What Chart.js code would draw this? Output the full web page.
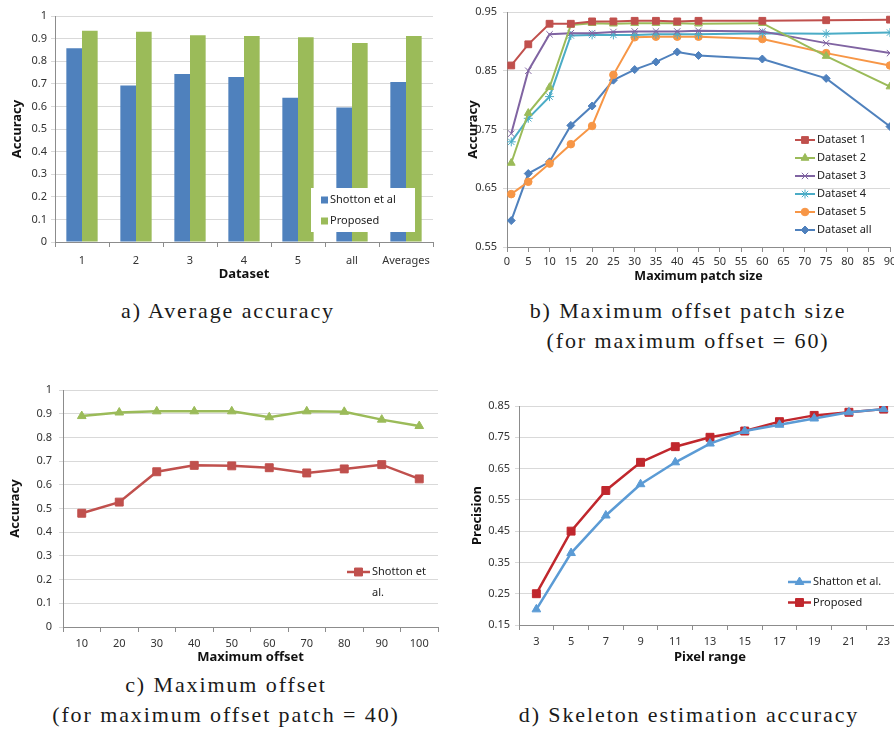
<!DOCTYPE html>
<html>
<head>
<meta charset="utf-8">
<script src="https://cdn.jsdelivr.net/npm/chart.js@4.4.1/dist/chart.umd.min.js"></script>
<style>
  html, body { margin: 0; padding: 0; background: #fff; }
  body { width: 894px; height: 738px; overflow: hidden; position: relative; }
  canvas { position: absolute; }
  .cap {
    position: absolute; text-align: center; color: #1a1a1a;
    font-family: "Liberation Serif", serif; font-size: 22px; line-height: 30px;
    letter-spacing: 1.9px; white-space: nowrap;
  }
</style>
</head>
<body>
<canvas id="chartA" width="440" height="285" style="left:0;top:0"></canvas>
<canvas id="chartB" width="470" height="290" style="left:450px;top:0"></canvas>
<canvas id="chartC" width="445" height="300" style="left:0;top:370px"></canvas>
<canvas id="chartD" width="470" height="290" style="left:450px;top:390px"></canvas>

<div class="cap" style="left:28px;width:400px;top:296px">a) Average accuracy</div>
<div class="cap" style="left:488px;width:400px;top:296px">b) Maximum offset patch size<br>(for maximum offset = 60)</div>
<div class="cap" style="left:26px;width:400px;top:670px">c) Maximum offset<br>(for maximum offset patch = 40)</div>
<div class="cap" style="left:489px;width:400px;top:700px">d) Skeleton estimation accuracy</div>

<script>
// a) average accuracy per dataset
const datasetNames = ["1", "2", "3", "4", "5", "all", "Averages"];
const shottonAvg = [0.857, 0.692, 0.743, 0.730, 0.638, 0.595, 0.708];
const proposedAvg = [0.935, 0.930, 0.915, 0.912, 0.906, 0.880, 0.912];
const accuracyTicks = [0, 0.1, 0.2, 0.3, 0.4, 0.5, 0.6, 0.7, 0.8, 0.9, 1];

// b) maximum offset patch size
const patchSizes = [1, 5, 10, 15, 20, 25, 30, 35, 40, 45, 60, 75, 90];
const patchDataset1 = [0.859, 0.895, 0.930, 0.930, 0.934, 0.934, 0.935, 0.935, 0.934, 0.935, 0.935, 0.936, 0.937];
const patchDataset2 = [0.693, 0.778, 0.822, 0.928, 0.931, 0.930, 0.931, 0.931, 0.931, 0.930, 0.931, 0.875, 0.823];
const patchDataset3 = [0.743, 0.850, 0.912, 0.914, 0.914, 0.916, 0.917, 0.917, 0.917, 0.918, 0.917, 0.897, 0.880];
const patchDataset4 = [0.729, 0.769, 0.806, 0.910, 0.911, 0.911, 0.911, 0.912, 0.912, 0.912, 0.914, 0.913, 0.915];
const patchDataset5 = [0.640, 0.661, 0.692, 0.725, 0.756, 0.843, 0.907, 0.908, 0.908, 0.908, 0.904, 0.880, 0.859];
const patchDatasetAll = [0.595, 0.675, 0.695, 0.757, 0.790, 0.834, 0.852, 0.865, 0.882, 0.876, 0.870, 0.837, 0.755];
const patchAccTicks = [0.55, 0.65, 0.75, 0.85, 0.95];

// c) maximum offset
const offsetValues = ["10", "20", "30", "40", "50", "60", "70", "80", "90", "100"];
const offsetShotton = [0.480, 0.527, 0.655, 0.682, 0.680, 0.672, 0.650, 0.667, 0.685, 0.625];
const offsetProposed = [0.890, 0.905, 0.910, 0.910, 0.910, 0.885, 0.910, 0.908, 0.875, 0.848];

// d) skeleton estimation
const pixelRanges = ["3", "5", "7", "9", "11", "13", "15", "17", "19", "21", "23"];
const pixelShatton = [0.20, 0.38, 0.50, 0.60, 0.67, 0.73, 0.77, 0.79, 0.81, 0.83, 0.84];
const pixelProposed = [0.25, 0.45, 0.58, 0.67, 0.72, 0.75, 0.77, 0.80, 0.82, 0.83, 0.84];
const precisionTicks = [0.15, 0.25, 0.35, 0.45, 0.55, 0.65, 0.75, 0.85];

const FONT = "'Noto Sans', sans-serif";
const GRID = "#d9d9d9";
const AXIS = "#8c8c8c";

Chart.defaults.font.family = FONT;
Chart.defaults.font.size = 11;
Chart.defaults.color = "#333";
Chart.defaults.animation = false;
Chart.defaults.plugins.legend.display = false;
Chart.defaults.plugins.tooltip.enabled = false;

// legend drawn inside the plot, like the excel ones
const boxLegend = {
  id: "boxLegend",
  afterDraw(chart, args, opts) {
    if (opts.x == null) return;
    const ctx = chart.ctx;
    ctx.save();
    if (opts.box) {
      ctx.fillStyle = "#fff";
      ctx.fillRect(opts.box[0], opts.box[1], opts.box[2], opts.box[3]);
    }
    ctx.font = "11px " + FONT;
    ctx.textBaseline = "middle";
    let y = opts.y;
    chart.data.datasets.forEach(ds => {
      if (ds.noLegend) return;
      let tx;
      if (opts.swatch) {
        ctx.fillStyle = ds.backgroundColor;
        ctx.fillRect(opts.x, y - 3.5, 7, 7);
        tx = opts.x + 9;
      } else {
        ctx.strokeStyle = ds.borderColor;
        ctx.lineWidth = ds.borderWidth;
        ctx.beginPath();
        ctx.moveTo(opts.x, y);
        ctx.lineTo(opts.x + opts.lineLen, y);
        ctx.stroke();
        ctx.fillStyle = ds.pointBackgroundColor;
        ctx.strokeStyle = ds.pointBorderColor;
        ctx.lineWidth = 1;
        Chart.helpers.drawPoint(ctx, { pointStyle: ds.pointStyle, radius: ds.pointRadius, borderWidth: 1, rotation: 0 }, opts.x + opts.lineLen / 2, y);
        tx = opts.x + opts.lineLen + 2;
      }
      // wrap words if the label is too long
      const lines = [];
      let cur = "";
      ds.label.split(" ").forEach(w => {
        const t = cur ? cur + " " + w : w;
        if (opts.maxWidth && ctx.measureText(t).width > opts.maxWidth && cur) {
          lines.push(cur);
          cur = w;
        } else cur = t;
      });
      lines.push(cur);
      ctx.fillStyle = "#222";
      lines.forEach((l, i) => ctx.fillText(l, tx, y + i * opts.rowH));
      y += opts.rowH * lines.length;
    });
    ctx.restore();
  }
};

function fixSize(size, vertical) {
  return s => {
    if (vertical) s.width = size; else s.height = size;
    s.paddingLeft = s.paddingRight = s.paddingTop = s.paddingBottom = 0;
  };
}

function useTicks(list) {
  return s => { s.ticks = list.map(v => ({ value: v })); };
}

function yAxis(title, width, ticks, titlePad, labelPad) {
  return {
    min: ticks[0],
    max: ticks[ticks.length - 1],
    afterFit: fixSize(width, true),
    afterBuildTicks: useTicks(ticks),
    border: { color: AXIS },
    grid: { color: GRID, tickLength: 4 },
    ticks: { padding: labelPad, callback: v => String(+v.toFixed(2)) },
    title: { display: true, text: title, color: "#111", font: { size: 13, weight: "bold" }, padding: { top: titlePad, bottom: 0 } }
  };
}

function xCategory(title, height, labelPad, titlePad) {
  return {
    offset: true,
    afterFit: fixSize(height, false),
    border: { color: AXIS },
    grid: { offset: true, drawOnChartArea: false, color: AXIS, tickLength: 5 },
    ticks: { padding: labelPad, autoSkip: false, maxRotation: 0 },
    title: { display: true, text: title, color: "#111", font: { size: 13, weight: "bold" }, padding: { top: 0, bottom: titlePad } }
  };
}

function lineSet(label, data, color, style, radius, width) {
  return {
    label: label,
    data: data,
    borderColor: color,
    borderWidth: width,
    pointStyle: style,
    pointRadius: radius,
    pointBackgroundColor: color,
    pointBorderColor: color,
    pointBorderWidth: 1,
    tension: 0
  };
}

function xy(xs, ys) {
  return xs.map((x, i) => ({ x: x, y: ys[i] }));
}

// a
new Chart(document.getElementById("chartA"), {
  type: "bar",
  data: {
    labels: datasetNames,
    datasets: [
      { label: "Shotton et al", data: shottonAvg, backgroundColor: "#4f81bd", barPercentage: 1, categoryPercentage: 0.58 },
      { label: "Proposed", data: proposedAvg, backgroundColor: "#9bbb59", barPercentage: 1, categoryPercentage: 0.58 }
    ]
  },
  options: {
    responsive: false,
    layout: { padding: { top: 16, right: 7, left: 0, bottom: 0 } },
    scales: {
      x: xCategory("Dataset", 43, 7, 3),
      y: yAxis("Accuracy", 55, accuracyTicks, 9, 4)
    },
    plugins: { boxLegend: { x: 321, y: 200, rowH: 21, swatch: true, box: [311, 188, 104, 44] } }
  },
  plugins: [boxLegend]
});

// b
new Chart(document.getElementById("chartB"), {
  type: "scatter",
  data: {
    datasets: [
      lineSet("Dataset 1", xy(patchSizes, patchDataset1), "#c0504d", "rect", 4.8, 2),
      lineSet("Dataset 2", xy(patchSizes, patchDataset2), "#9bbb59", "triangle", 4.5, 2),
      lineSet("Dataset 3", xy(patchSizes, patchDataset3), "#8064a2", "crossRot", 4.5, 2),
      lineSet("Dataset 4", xy(patchSizes, patchDataset4), "#4bacc6", "star", 4.5, 2),
      lineSet("Dataset 5", xy(patchSizes, patchDataset5), "#f79646", "circle", 3.8, 2),
      lineSet("Dataset all", xy(patchSizes, patchDatasetAll), "#4f81bd", "rectRot", 4, 2)
    ].map(d => Object.assign(d, { showLine: true }))
  },
  options: {
    responsive: false,
    layout: { padding: { top: 12, right: 30, left: 0, bottom: 0 } },
    scales: {
      x: {
        type: "linear",
        min: 0,
        max: 90,
        afterFit: fixSize(43, false),
        border: { color: AXIS },
        grid: { drawOnChartArea: false, color: AXIS, tickLength: 5 },
        ticks: { stepSize: 5, padding: 3, autoSkip: false, maxRotation: 0 },
        title: { display: true, text: "Maximum patch size", color: "#111", font: { size: 12.5, weight: "bold" }, padding: { top: 0, bottom: 6 } }
      },
      y: yAxis("Accuracy", 57, patchAccTicks, 15, 6)
    },
    plugins: { boxLegend: { x: 345, y: 140, rowH: 18, lineLen: 20 } }
  },
  plugins: [boxLegend]
});

// c
new Chart(document.getElementById("chartC"), {
  type: "line",
  data: {
    labels: offsetValues,
    datasets: [
      lineSet("Shotton et al.", offsetShotton, "#c0504d", "rect", 5.6, 2.5),
      Object.assign(lineSet("Proposed", offsetProposed, "#9bbb59", "triangle", 5, 2.5), { noLegend: true })
    ]
  },
  options: {
    responsive: false,
    layout: { padding: { top: 20, right: 7, left: 0, bottom: 0 } },
    scales: {
      x: xCategory("Maximum offset", 43, 5, 5),
      y: yAxis("Accuracy", 63, accuracyTicks, 7, 7)
    },
    plugins: { boxLegend: { x: 347, y: 202, rowH: 21, lineLen: 23, maxWidth: 62 } }
  },
  plugins: [boxLegend]
});

// d
new Chart(document.getElementById("chartD"), {
  type: "line",
  data: {
    labels: pixelRanges,
    datasets: [
      lineSet("Shatton et al.", pixelShatton, "#5b9bd5", "triangle", 5, 2.5),
      lineSet("Proposed", pixelProposed, "#c0272d", "rect", 5.6, 2.5)
    ]
  },
  options: {
    responsive: false,
    layout: { padding: { top: 16, right: 19, left: 0, bottom: 0 } },
    scales: {
      x: xCategory("Pixel range", 55, 5, 15),
      y: yAxis("Precision", 69, precisionTicks, 19, 5)
    },
    plugins: { boxLegend: { x: 338, y: 192, rowH: 20.5, lineLen: 23 } }
  },
  plugins: [boxLegend]
});
</script>
</body>
</html>
